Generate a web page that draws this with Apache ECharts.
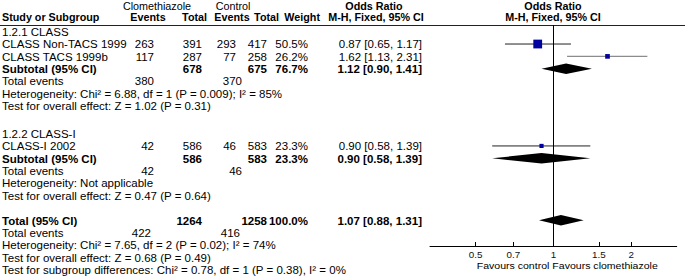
<!DOCTYPE html>
<html><head><meta charset="utf-8">
<script src="https://cdn.jsdelivr.net/npm/echarts@6/dist/echarts.min.js"></script>
<style>html,body{margin:0;padding:0;background:#fff}#c{width:685px;height:278px}</style>
</head><body><div id="c"></div>
<script>
// ---- data ----
const studies = ['CLASS Non-TACS 1999', 'CLASS TACS 1999b', 'CLASS-I 2002'];
const studyGroup = [0, 0, 1];
const expEvents = [263, 117, 42];
const expTotal = [391, 287, 586];
const ctlEvents = [293, 77, 46];
const ctlTotal = [417, 258, 583];
const weights = [50.5, 26.2, 23.3];
const oddsRatio = [0.87, 1.62, 0.90];
const ciLow = [0.65, 1.13, 0.58];
const ciHigh = [1.17, 2.31, 1.39];

const groups = ['1.2.1 CLASS', '1.2.2 CLASS-I'];
const subExpTotal = [678, 586];
const subCtlTotal = [675, 583];
const subWeight = [76.7, 23.3];
const subExpEvents = [380, 42];
const subCtlEvents = [370, 46];
const subOR = [1.12, 0.90];
const subLow = [0.90, 0.58];
const subHigh = [1.41, 1.39];
const hetText = ['Heterogeneity: Chi\u00b2 = 6.88, df = 1 (P = 0.009); I\u00b2 = 85%', 'Heterogeneity: Not applicable'];
const effectText = ['Test for overall effect: Z = 1.02 (P = 0.31)', 'Test for overall effect: Z = 0.47 (P = 0.64)'];

const totalExpTotal = 1264, totalCtlTotal = 1258, totalWeight = 100.0;
const totalExpEvents = 422, totalCtlEvents = 416;
const totalOR = 1.07, totalLow = 0.88, totalHigh = 1.31;
const totalHet = 'Heterogeneity: Chi\u00b2 = 7.65, df = 2 (P = 0.02); I\u00b2 = 74%';
const totalEffect = 'Test for overall effect: Z = 0.68 (P = 0.49)';
const subgroupTest = 'Test for subgroup differences: Chi\u00b2 = 0.78, df = 1 (P = 0.38), I\u00b2 = 0%';

const tickValues = [0.5, 0.7, 1, 1.5, 2];
const axisRange = [1 / 3, 3];

// ---- layout (row units) ----
const groupStart = [0, 8.25];
const totalStart = 15.27;
const L = Math.log10;
const fmt2 = v => v.toFixed(2);
const orStr = (o, l, h) => fmt2(o) + ' [' + fmt2(l) + ', ' + fmt2(h) + ']';

const studyRow = [];
const counters = [0, 0];
studies.forEach((s, i) => { const g = studyGroup[i]; counters[g]++; studyRow.push(groupStart[g] + counters[g]); });
const subRow = groups.map((g, gi) => groupStart[gi] + counters[gi] + 1);

const FAM = '"Liberation Sans", Arial, sans-serif';
const FS = 10.7;
const HFS = 10.0;
const cv = document.createElement('canvas').getContext('2d');
cv.font = FS + 'px ' + FAM;
const SX = Math.max(0.9, Math.min(1.15, 344 / cv.measureText(subgroupTest).width));

const chart = echarts.init(document.getElementById('c'), null, { renderer: 'svg' });

const ciData = studies.map((s, i) => [L(ciLow[i]), L(ciHigh[i]), studyRow[i], i]);
const sqData = studies.map((s, i) => [L(oddsRatio[i]), studyRow[i], weights[i]]);
const dmData = groups.map((g, gi) => [L(subLow[gi]), L(subOR[gi]), L(subHigh[gi]), subRow[gi]]);
dmData.push([L(totalLow), L(totalOR), L(totalHigh), totalStart]);

chart.setOption({
  animation: false,
  grid: { left: 430, top: 25, width: 246.7, height: 221 },
  xAxis: {
    type: 'value', min: L(axisRange[0]), max: L(axisRange[1]),
    axisLine: { show: true, onZero: false, lineStyle: { color: '#000', width: 1 } },
    axisTick: { show: true, inside: true, length: 4, lineStyle: { color: '#000' }, customValues: tickValues.map(L) },
    axisLabel: {
      show: true, customValues: tickValues.map(L), margin: 4, color: '#111', fontSize: 9.8, lineHeight: 9, fontFamily: FAM,
      formatter: v => { let best = tickValues[0]; tickValues.forEach(t => { if (Math.abs(L(t) - v) < Math.abs(L(best) - v)) best = t; }); return String(best); }
    },
    splitLine: { show: false }
  },
  yAxis: { type: 'value', inverse: true, min: -0.54, max: 17.35, show: false, axisLine: { show: false, onZero: false }, splitLine: { show: false } },
  series: [
    {
      type: 'custom', name: 'ci', data: ciData, z: 2,
      renderItem: (params, api) => {
        const a = api.coord([api.value(0), api.value(2)]);
        const b = api.coord([api.value(1), api.value(2)]);
        const idx = api.value(3);
        return { type: 'line', shape: { x1: a[0], y1: a[1], x2: b[0], y2: b[1] }, style: { stroke: idx === 1 ? '#8c8c8c' : '#222', lineWidth: idx === 1 ? 1.3 : 1 } };
      },
      markLine: { silent: true, symbol: 'none', label: { show: false }, lineStyle: { color: '#000', width: 1, type: 'solid' }, data: [{ xAxis: 0 }] }
    },
    {
      type: 'scatter', name: 'or', data: sqData, symbol: 'rect', z: 3,
      symbolSize: d => 0.17 * d[2] + 0.2,
      itemStyle: { color: '#0000a0', opacity: 1 }
    },
    {
      type: 'custom', name: 'diamond', data: dmData, z: 3,
      renderItem: (params, api) => {
        const y = api.value(3);
        const l = api.coord([api.value(0), y]);
        const c = api.coord([api.value(1), y]);
        const r = api.coord([api.value(2), y]);
        const h = 5.3;
        return { type: 'polygon', shape: { points: [[l[0], l[1]], [c[0], c[1] - h], [r[0], r[1]], [c[0], c[1] + h]] }, style: { fill: '#000' } };
      }
    }
  ]
});

// ---- table text ----
const rowY = v => chart.convertToPixel({ yAxisIndex: 0 }, v) + 0.5;
const g = [];
function T(x, y, text, align, bold, size) {
  const fs = size || FS;
  g.push({ type: 'text', x: x, y: y, scaleX: SX, silent: true,
    style: { text: String(text), fill: '#000', font: (bold ? 'bold ' : '') + fs.toFixed(2) + 'px ' + FAM, lineHeight: fs, textAlign: align || 'left', textVerticalAlign: 'middle' } });
}
const C = { label: 2, expEv: 154, expTot: 202, ctlEv: 236, ctlTot: 267, wt: 308, or: 422 };

// headers
T(157, 6.2, 'Clomethiazole', 'center', false, HFS);
T(233, 6.2, 'Control', 'center', false, HFS);
T(374, 6.2, 'Odds Ratio', 'center', true, HFS);
T(553, 6.2, 'Odds Ratio', 'center', true, HFS);
T(C.label, 18, 'Study or Subgroup', 'left', true, HFS);
T(148, 18, 'Events', 'center', true, HFS);
T(207, 18, 'Total', 'right', true, HFS);
T(232, 18, 'Events', 'center', true, HFS);
T(279, 18, 'Total', 'right', true, HFS);
T(320, 18, 'Weight', 'right', true, HFS);
T(376, 18, 'M-H, Fixed, 95% CI', 'center', true, HFS);
T(553, 18, 'M-H, Fixed, 95% CI', 'center', true, HFS);
g.push({ type: 'line', silent: true, shape: { x1: 0, y1: 25.5, x2: 685, y2: 25.5 }, style: { stroke: '#222', lineWidth: 1 } });

groups.forEach((name, gi) => {
  T(C.label, rowY(groupStart[gi]), name, 'left');
  studies.forEach((s, i) => {
    if (studyGroup[i] !== gi) return;
    const y = rowY(studyRow[i]);
    T(C.label, y, s, 'left');
    T(C.expEv, y, expEvents[i], 'right');
    T(C.expTot, y, expTotal[i], 'right');
    T(C.ctlEv, y, ctlEvents[i], 'right');
    T(C.ctlTot, y, ctlTotal[i], 'right');
    T(C.wt, y, weights[i].toFixed(1) + '%', 'right');
    T(C.or, y, orStr(oddsRatio[i], ciLow[i], ciHigh[i]), 'right');
  });
  const ys = rowY(subRow[gi]);
  T(C.label, ys, 'Subtotal (95% CI)', 'left', true);
  T(C.expTot, ys, subExpTotal[gi], 'right', true);
  T(C.ctlTot, ys, subCtlTotal[gi], 'right', true);
  T(C.wt, ys, subWeight[gi].toFixed(1) + '%', 'right', true);
  T(C.or, ys, orStr(subOR[gi], subLow[gi], subHigh[gi]), 'right', true);
  const yt = rowY(subRow[gi] + 1);
  T(C.label, yt, 'Total events', 'left');
  T(C.expEv, yt, subExpEvents[gi], 'right');
  T(C.ctlEv + 6, yt, subCtlEvents[gi], 'right');
  T(C.label, rowY(subRow[gi] + 2), hetText[gi], 'left');
  T(C.label, rowY(subRow[gi] + 3), effectText[gi], 'left');
});

const yT = rowY(totalStart);
T(C.label, yT, 'Total (95% CI)', 'left', true);
T(C.expTot, yT, totalExpTotal, 'right', true);
T(C.ctlTot, yT, totalCtlTotal, 'right', true);
T(C.wt, yT, totalWeight.toFixed(1) + '%', 'right', true);
T(C.or, yT, orStr(totalOR, totalLow, totalHigh), 'right', true);
T(C.label, rowY(totalStart + 1), 'Total events', 'left');
T(C.expEv - 3, rowY(totalStart + 1), totalExpEvents, 'right');
T(C.ctlEv + 4, rowY(totalStart + 1), totalCtlEvents, 'right');
T(C.label, rowY(totalStart + 2), totalHet, 'left');
T(C.label, rowY(totalStart + 3), totalEffect, 'left');
T(C.label, rowY(totalStart + 4), subgroupTest, 'left');

const x1 = chart.convertToPixel({ xAxisIndex: 0 }, 0);
T(x1 - 4, 265.8, 'Favours control', 'right', false, 9.8);
T(x1 - 1, 265.8, 'Favours clomethiazole', 'left', false, 9.8);

chart.setOption({ graphic: { elements: g } });
</script></body></html>
